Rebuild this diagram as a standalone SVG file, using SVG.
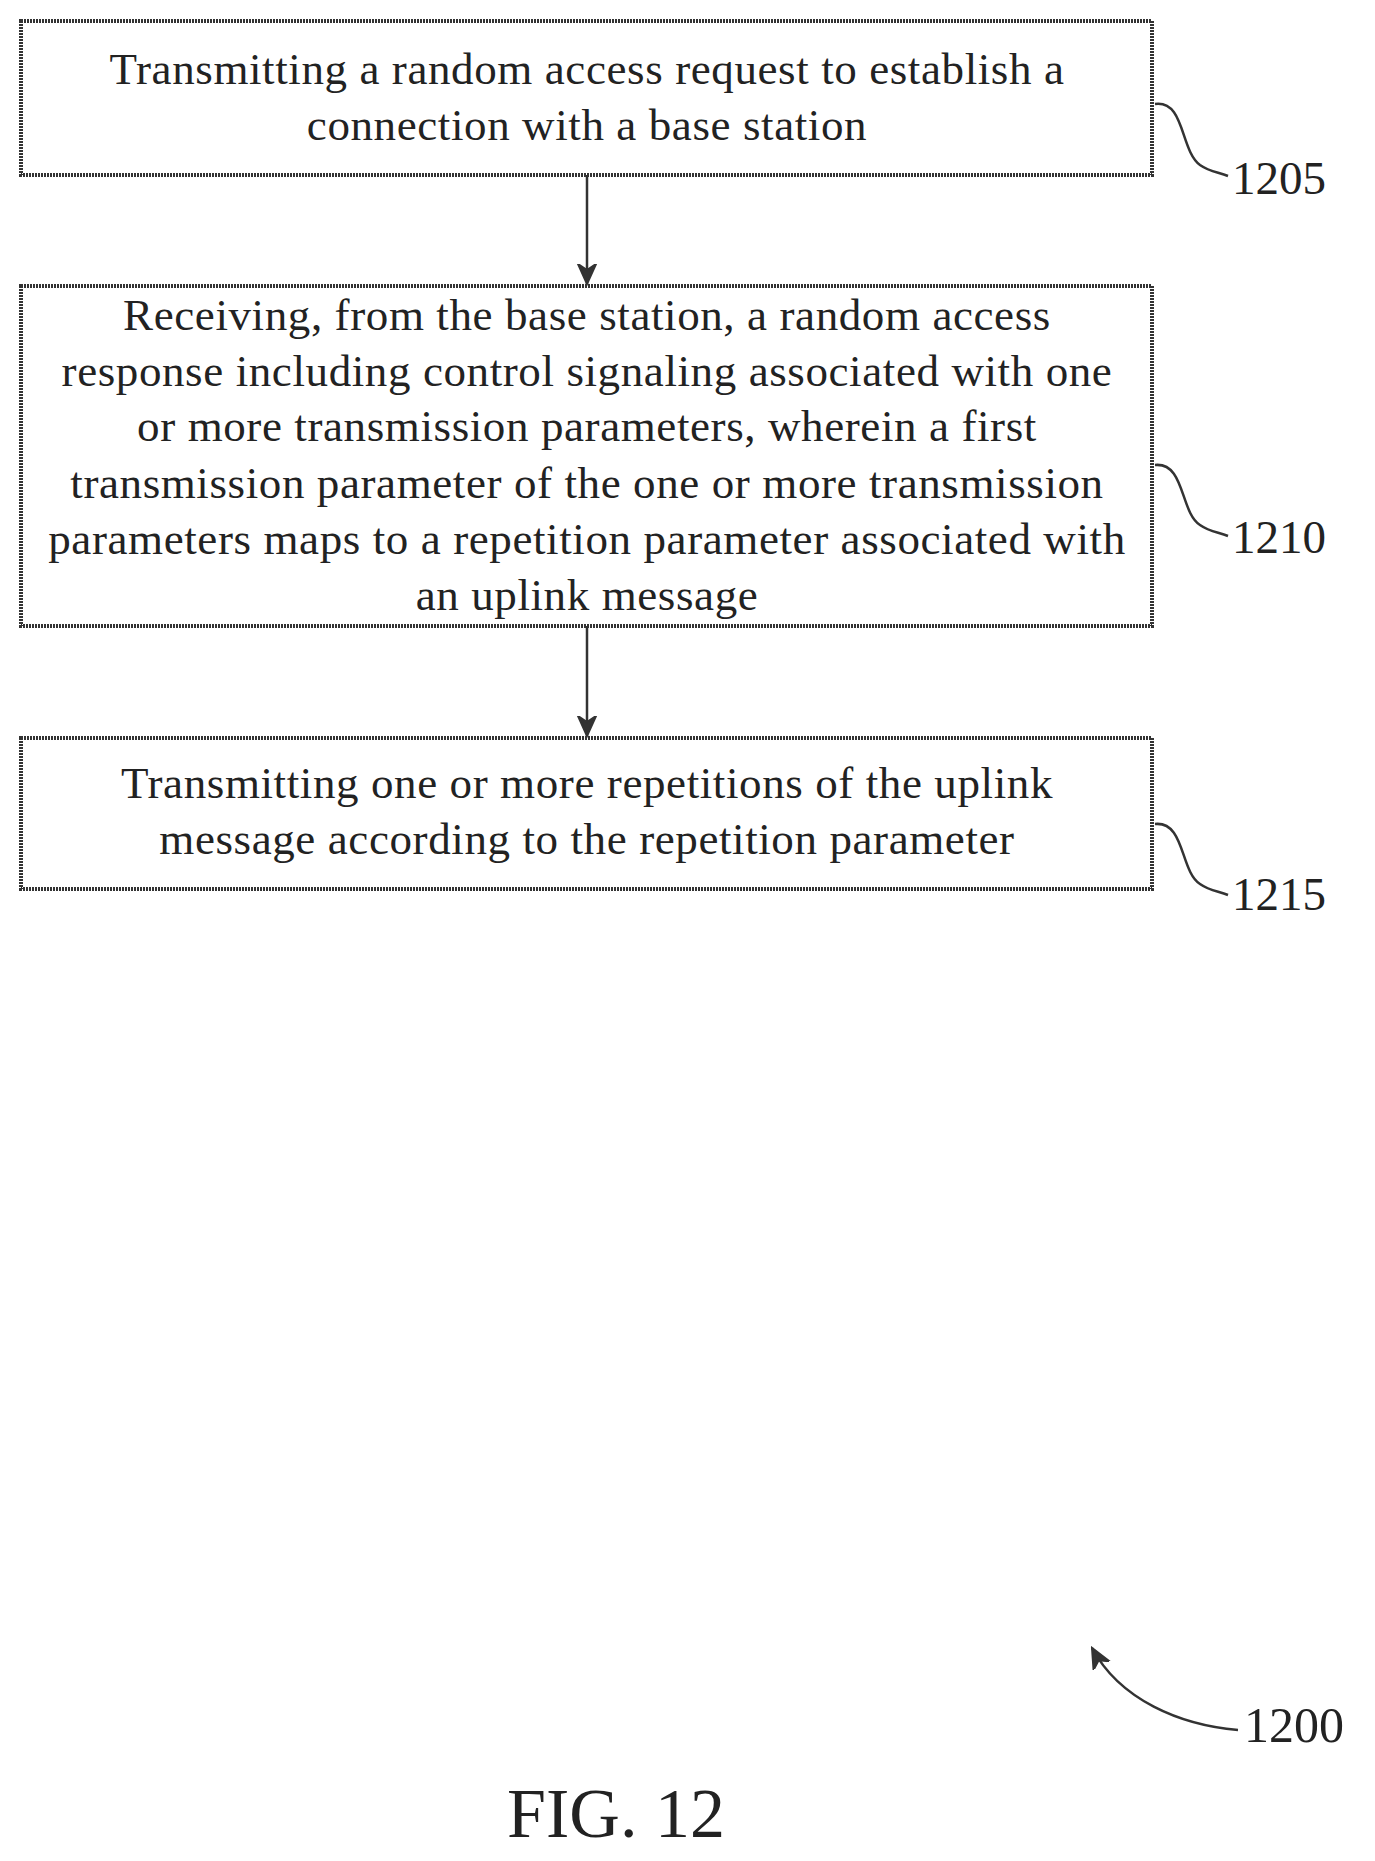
<svg xmlns="http://www.w3.org/2000/svg" width="1375" height="1861" viewBox="0 0 1375 1861">
<style>
.box{fill:#fff;stroke:#333;stroke-width:4;stroke-dasharray:2 1}
.t{font-family:"Liberation Serif",serif;font-size:45px;letter-spacing:0.6px;fill:#222;text-anchor:middle}
.lb{font-family:"Liberation Serif",serif;font-size:47px;fill:#222}
.ln{fill:none;stroke:#333;stroke-width:2.5}
</style>
<defs><marker id="ah2" markerWidth="22" markerHeight="22" refX="20" refY="11" orient="auto" markerUnits="userSpaceOnUse" viewBox="0 0 22 22"><path d="M0,2 L20,11 L0,20 L6,11 Z" fill="#333" stroke="#333" stroke-width="2"/></marker></defs>
<rect width="1375" height="1861" fill="#fff"/>
<g id="connectors">
<line class="ln" x1="587" y1="175" x2="587" y2="284" marker-end="url(#ah2)"/>
<line class="ln" x1="587" y1="626" x2="587" y2="736" marker-end="url(#ah2)"/>
<path class="ln" d="M1155,104 C1185,100 1180,150 1200,165 C1210,172 1218,172 1228,176"/>
<path class="ln" d="M1155,465 C1185,462 1180,512 1200,525 C1210,532 1218,532 1228,536"/>
<path class="ln" d="M1155,824 C1185,821 1180,871 1200,884 C1210,891 1218,891 1228,895"/>
<path class="ln" d="M1238,1730 C1180,1725 1120,1700 1092,1648" marker-end="url(#ah2)"/>
</g>
<g id="n1205"><rect class="box" x="21" y="21" width="1131" height="154"/>
<text class="t" x="587" y="84">Transmitting a random access request to establish a</text>
<text class="t" x="587" y="140">connection with a base station</text>
<text class="lb" x="1232" y="194">1205</text></g>
<g id="n1210"><rect class="box" x="21" y="286" width="1131" height="340"/>
<text class="t" x="587" y="330">Receiving, from the base station, a random access</text>
<text class="t" x="587" y="386">response including control signaling associated with one</text>
<text class="t" x="587" y="441">or more transmission parameters, wherein a first</text>
<text class="t" x="587" y="498">transmission parameter of the one or more transmission</text>
<text class="t" x="587" y="554">parameters maps to a repetition parameter associated with</text>
<text class="t" x="587" y="610">an uplink message</text>
<text class="lb" x="1232" y="553">1210</text></g>
<g id="n1215"><rect class="box" x="21" y="738" width="1131" height="151"/>
<text class="t" x="587" y="798">Transmitting one or more repetitions of the uplink</text>
<text class="t" x="587" y="854">message according to the repetition parameter</text>
<text class="lb" x="1232" y="910">1215</text></g>
<g id="n1200"><text class="lb" x="1244" y="1742" style="font-size:50px">1200</text></g>
<text x="616" y="1837" style="font-family:'Liberation Serif',serif;font-size:70px;fill:#222;text-anchor:middle">FIG. 12</text>
</svg>
